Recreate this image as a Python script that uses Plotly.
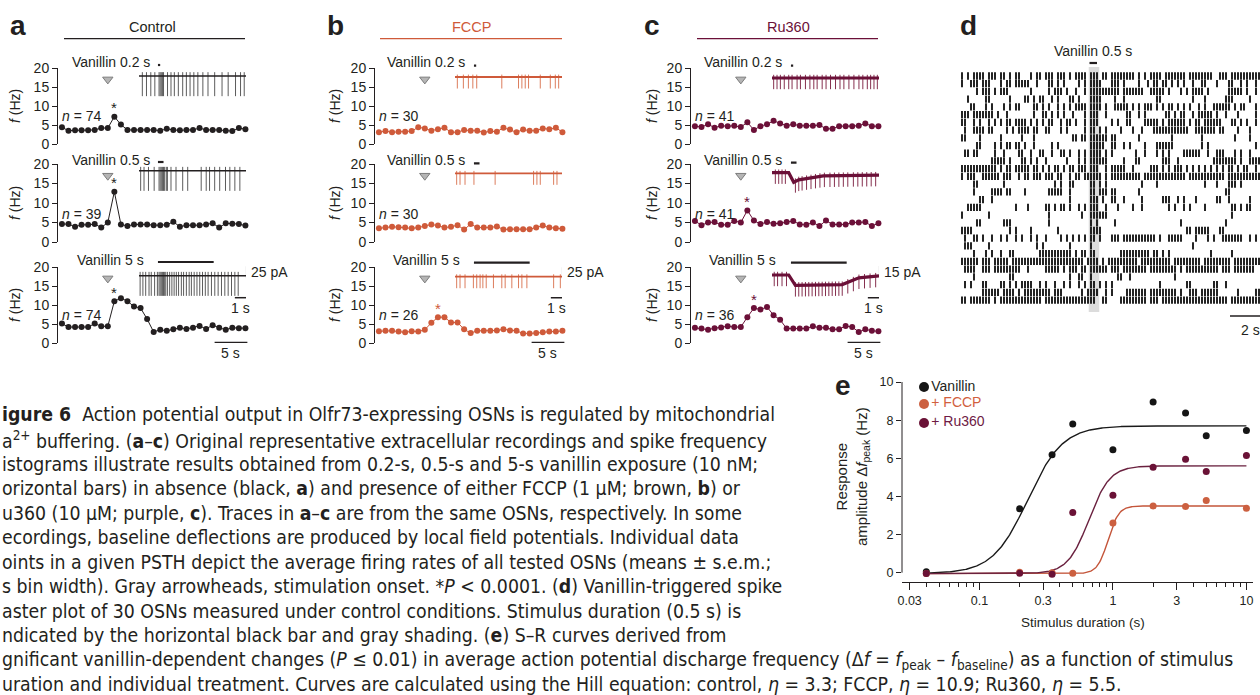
import numpy as np
import plotly.graph_objects as go

# ------------------------------------------------------------------ data
CONDITIONS = ["Control", "FCCP", "Ru360"]
STIM_LABELS = ["Vanillin 0.2 s", "Vanillin 0.5 s", "Vanillin 5 s"]
STIM_DUR_S = [0.2, 0.5, 5.0]
BIN_S = 1.0
STIM_ONSET_BIN = 7

CTRL_02 = [4.4, 3.5, 3.6, 3.6, 3.6, 3.7, 4.2, 4.2, 7.2, 5.1, 3.7, 3.7, 3.7, 3.7, 3.7, 3.5, 4.0, 3.7, 3.6, 3.7,
           3.7, 4.2, 3.7, 3.7, 3.7, 3.5, 3.4, 4.2, 3.9]
CTRL_05 = [4.6, 4.6, 3.9, 4.4, 4.4, 4.6, 3.7, 5.0, 12.9, 4.5, 4.1, 4.5, 4.5, 4.5, 4.3, 4.3, 4.4, 5.2, 3.9, 4.3,
           4.3, 4.3, 4.5, 4.8, 3.7, 4.8, 4.7, 4.6, 4.2]
CTRL_5 = [5.1, 4.2, 4.2, 4.2, 4.2, 5.1, 4.4, 4.4, 11.0, 11.8, 11.0, 9.6, 9.2, 6.3, 2.9, 3.5, 3.2, 3.6, 4.0, 3.7,
          4.0, 4.5, 3.7, 4.7, 4.0, 3.5, 4.0, 3.9, 3.9]
FCCP_02 = [3.1, 3.4, 3.1, 3.2, 3.2, 3.4, 4.4, 4.1, 3.5, 3.9, 4.3, 3.1, 3.1, 3.7, 3.5, 3.5, 3.0, 3.4, 3.2, 4.3,
           3.8, 3.1, 3.8, 3.5, 3.5, 4.1, 3.9, 4.3, 3.1]
FCCP_05 = [3.5, 3.7, 3.9, 3.8, 3.7, 3.5, 3.7, 4.1, 4.5, 4.2, 3.7, 3.9, 4.3, 3.2, 4.6, 3.7, 3.7, 3.7, 4.0, 3.2,
           3.3, 3.3, 3.3, 3.3, 3.7, 4.2, 3.7, 3.5, 3.4]
FCCP_5 = [3.1, 3.2, 3.2, 3.0, 2.8, 3.1, 3.0, 3.5, 5.3, 6.8, 6.8, 5.4, 5.4, 3.6, 2.6, 3.2, 3.2, 3.2, 3.3, 3.6,
          3.3, 3.2, 2.5, 2.5, 2.6, 2.8, 3.0, 3.0, 3.2]
RU_02 = [4.7, 4.45, 5.2, 4.3, 4.8, 4.7, 4.8, 4.45, 5.7, 3.7, 4.7, 5.2, 6.1, 5.4, 4.8, 5.2, 4.8, 4.8, 4.8, 5.0,
         4.0, 4.0, 4.7, 4.7, 4.7, 4.8, 5.4, 4.7, 4.7]
RU_05 = [5.4, 4.3, 5.0, 5.1, 4.4, 4.4, 5.4, 5.0, 8.1, 5.5, 4.6, 5.1, 4.7, 4.8, 5.1, 5.4, 4.5, 4.4, 5.0, 4.1,
         5.5, 4.5, 4.5, 4.5, 5.0, 5.0, 5.1, 4.1, 4.8]
RU_5 = [4.0, 3.8, 3.5, 3.9, 4.1, 4.4, 4.2, 4.2, 6.8, 9.2, 8.8, 9.5, 7.3, 6.1, 3.8, 3.8, 3.8, 3.8, 4.4, 4.0,
        4.0, 3.6, 3.6, 4.5, 4.2, 2.9, 3.6, 3.2, 3.1]
PSTH_VALUES = [[CTRL_02, CTRL_05, CTRL_5], [FCCP_02, FCCP_05, FCCP_5], [RU_02, RU_05, RU_5]]
PSTH_SEM = 0.35
N_CELLS = [[74, 39, 74], [30, 30, 26], [41, 41, 36]]
STAR_BIN = [[8, 8, 8], [None, None, 9], [None, 8, 9]]
Y_TICKS = [0, 5, 10, 15, 20]

# example recordings (spike times in s within the 9.6-s trace)
INSET_SPAN_S = 9.6
TRACE_STIM_T0 = 1.7
A_SPK_02 = [0.3, 0.67, 1.06, 1.42, 1.8, 1.9, 2.0, 2.1, 2.2, 2.56, 2.87, 3.17, 3.53, 3.92, 4.25, 4.58, 4.92,
            5.28, 5.73, 6.19, 6.79, 7.45, 8.0, 8.66, 9.11, 9.44]
A_SPK_05 = [0.15, 0.45, 0.85, 1.36, 1.8, 1.9, 2.0, 2.1, 2.2, 2.3, 2.45, 2.55, 2.87, 3.32, 3.92, 4.37, 5.58,
            6.03, 6.33, 6.79, 7.24, 7.76, 8.15, 8.6, 9.05]
A_SPK_5 = [0.1, 0.35, 0.6, 0.9, 1.1, 1.4, 1.65, 1.8, 1.9, 2.0, 2.1, 2.2, 2.3, 2.4, 2.55, 2.75, 2.95, 3.15,
           3.35, 3.55, 3.8, 4.0, 4.25, 4.5, 4.7, 4.95, 5.2, 5.45, 5.7, 5.95, 6.2, 6.5, 6.8, 7.1, 7.4, 7.7,
           8.0, 8.3, 8.6, 8.9]
B_SPK_02 = [0.21, 0.75, 1.2, 1.6, 1.95, 4.2, 5.7, 6.0, 6.3, 6.6, 7.65, 8.55, 9.0, 9.3]
B_SPK_05 = [0.15, 0.45, 0.9, 1.7, 3.6, 7.05, 7.35, 7.65, 8.85, 9.15]
B_SPK_5 = [0.15, 0.45, 0.9, 1.65, 1.95, 2.25, 2.5, 2.8, 3.45, 4.2, 4.5, 5.1, 5.7, 6.0, 6.45, 8.85, 9.45]
C_SPK_02 = [0.15, 0.45, 0.75, 1.1, 1.5, 1.8, 2.25, 2.55, 3.0, 3.4, 3.75, 4.05, 4.5, 4.85, 5.25, 5.7, 6.1,
            6.45, 6.9, 7.35, 7.8, 8.15, 8.55, 8.85, 9.15, 9.45]
C_SPK_05 = [0.3, 0.6, 0.9, 1.2, 2.1, 2.4, 2.7, 3.1, 3.5, 3.9, 4.3, 4.7, 5.2, 5.6, 6.0, 6.4, 6.8, 7.3, 7.7,
            8.1, 8.5, 8.9, 9.3]
C_SPK_5 = [0.2, 0.5, 0.9, 1.3, 2.1, 2.4, 2.7, 3.0, 3.3, 3.6, 3.9, 4.2, 4.5, 4.8, 5.1, 5.4, 5.7, 6.0, 6.3,
           6.8, 7.3, 7.8, 8.3, 8.8, 9.3]
SPIKES = [[A_SPK_02, A_SPK_05, A_SPK_5], [B_SPK_02, B_SPK_05, B_SPK_5], [C_SPK_02, C_SPK_05, C_SPK_5]]
FLAT_T, FLAT_PA = [0.0, 9.6], [0.0, 0.0]
C_BASE_05_T, C_BASE_05_PA = [0.0, 1.5, 1.95, 2.4, 4.6, 9.6], [0.0, 0.0, -12.0, -9.0, -4.0, -3.0]
C_BASE_5_T, C_BASE_5_PA = [0.0, 1.5, 2.1, 6.3, 7.8, 9.6], [0.0, 0.0, -13.0, -12.0, -3.5, -1.0]
BASELINES = [[(FLAT_T, FLAT_PA)] * 3, [(FLAT_T, FLAT_PA)] * 3,
             [(FLAT_T, FLAT_PA), (C_BASE_05_T, C_BASE_05_PA), (C_BASE_5_T, C_BASE_5_PA)]]
SPIKE_UP_PA = [8, 5, 4]
SPIKE_DOWN_PA = [-42, -24, -14]
PA_SCALE = [25, 25, 15]

# raster (d): spike bins of 0.2 s, first and second 10-s halves, 30 OSNs
RASTER_BIN_S = 0.2
RASTER_STIM_ONSET = 8.5
RASTER_STIM_DUR = 0.5
RASTER_BINS_0_10S = [
    [0, 2, 4, 5, 6, 7, 9, 10, 11, 13, 14, 16, 18, 19, 23, 25, 26, 28, 29, 30, 32, 33, 34, 36, 38, 39, 40, 41, 43, 44, 45, 47, 48],
    [0, 3, 4, 5, 7, 8, 9, 13, 15, 16, 18, 19, 20, 21, 22, 25, 29, 30, 32, 34, 39, 41, 43, 44, 45, 46],
    [5, 7, 8, 9, 11, 13, 14, 15, 23, 29, 31, 32, 33, 35, 38, 41, 43, 44, 45, 46, 47, 48, 49],
    [2, 8, 9, 16, 21, 22, 24, 26, 27, 30, 32, 36, 37, 39, 43, 44, 45, 46],
    [3, 4, 8, 10, 14, 16, 18, 19, 24, 25, 27, 29, 32, 34, 36, 38, 39, 40, 41, 43, 44, 45, 46, 48],
    [0, 1, 2, 4, 5, 6, 7, 8, 9, 10, 12, 15, 24, 27, 28, 30, 32, 34, 37, 41, 43, 44, 45, 48],
    [0, 1, 4, 6, 9, 11, 13, 15, 16, 18, 19, 20, 21, 23, 25, 27, 29, 30, 33, 35, 36, 38, 41, 43, 44, 45],
    [1, 4, 5, 6, 7, 9, 10, 15, 17, 19, 20, 21, 22, 24, 25, 28, 29, 33, 35, 41, 43, 44, 46, 48],
    [0, 1, 6, 13, 20, 24, 37, 38, 40, 41, 43, 44, 45, 46, 47, 48],
    [5, 6, 11, 13, 15, 16, 18, 19, 21, 24, 30, 32, 43, 44, 45, 46, 47],
    [1, 2, 4, 5, 11, 14, 19, 20, 23, 26, 27, 30, 33, 34, 36, 39, 41, 43, 44, 45, 46, 48],
    [10, 11, 12, 13, 14, 16, 20, 21, 23, 25, 28, 35, 39, 41, 43, 44, 45, 46, 47, 48],
    [0, 1, 2, 3, 4, 5, 6, 7, 8, 9, 10, 11, 13, 15, 16, 18, 19, 20, 21, 22, 24, 25, 27, 29, 31, 32, 34, 36, 37, 39, 40, 41, 43, 44, 45, 48],
    [0, 2, 3, 4, 7, 8, 9, 10, 11, 12, 14, 15, 16, 19, 21, 22, 24, 25, 26, 28, 29, 30, 32, 33, 36, 38, 39, 41, 42, 43, 44, 45, 46, 48],
    [4, 5, 14, 31, 33, 36, 37, 43, 44, 46, 48],
    [4, 10, 11, 12, 13, 15, 16, 21, 29, 30, 31, 32, 33, 36, 43, 44, 46, 47, 48],
    [6, 7, 10, 36, 43, 44, 45, 47],
    [2, 3, 4, 5, 6, 18, 22, 28, 29, 31, 33, 34, 36, 39, 41, 43, 44, 45, 48],
    [0, 9, 29, 40, 43, 44, 45, 46, 47, 48],
    [5, 6, 14, 15, 16, 29, 43, 45],
    [0, 1, 2, 3, 16, 18, 23, 32, 43, 44, 45, 46],
    [1, 4, 5, 7, 10, 13, 15, 18, 20, 23, 25, 28, 33, 35, 37, 39, 41, 43, 44, 46],
    [1, 2, 3, 9, 25, 27, 36, 43],
    [4, 8, 10, 13, 16, 17, 26, 27, 28, 29, 30, 31, 32, 33, 34, 35, 36, 38, 40, 41, 43, 44],
    [0, 1, 2, 3, 4, 5, 7, 8, 9, 11, 12, 13, 14, 15, 17, 18, 19, 20, 21, 22, 23, 24, 25, 26, 27, 28, 29, 30, 31, 32, 33, 34, 35, 36, 37, 38, 39, 40, 42, 43, 44, 45, 47, 49],
    [1, 2, 3, 4, 7, 8, 9, 11, 12, 13, 14, 15, 16, 17, 18, 19, 22, 28, 29, 30, 31, 32, 34, 36, 37, 38, 40, 41, 43, 44, 45, 46, 47, 48],
    [4, 16, 17, 36, 39, 40, 43],
    [1, 3, 7, 8, 13, 14, 16, 18, 20, 21, 22, 23, 26, 28, 31, 34, 36, 39, 41, 43, 44, 46, 48],
    [7, 8, 9, 10, 11, 12, 14, 15, 16, 17, 19, 21, 22, 23, 24, 25, 26, 27, 28, 29, 31, 32, 33, 40, 42, 43, 44, 45, 48],
    [0, 1, 3, 4, 5, 6, 7, 8, 9, 11, 13, 14, 15, 16, 17, 18, 19, 20, 21, 22, 23, 24, 25, 26, 28, 29, 30, 31, 32, 33, 34, 35, 36, 37, 38, 39, 40, 41, 42, 43, 44, 47, 48],
]
RASTER_BINS_10_20S = [
    [0, 1, 2, 3, 4, 5, 6, 7, 9, 11, 13, 14, 15, 16, 18, 19, 20, 21, 22, 23, 24, 26, 27, 28, 29, 30, 31, 32, 33, 36, 37, 38, 40, 41, 42, 43, 44, 45, 46, 47, 48, 49],
    [0, 1, 2, 4, 9, 12, 14, 15, 17, 18, 20, 22, 24, 27, 30, 31, 35, 39, 40, 43, 45, 48],
    [0, 1, 2, 4, 5, 6, 7, 8, 9, 10, 13, 14, 15, 16, 17, 19, 23, 25, 27, 28, 29, 30, 32, 39, 40, 41, 42, 43, 45, 48],
    [1, 4, 15, 16, 27, 31, 38, 39, 40, 46],
    [1, 2, 3, 4, 5, 7, 9, 11, 12, 13, 15, 17, 19, 20, 22, 24, 26, 29, 31, 34, 35, 36, 37, 38, 39, 41, 43, 44, 48],
    [5, 6, 9, 11, 18, 19, 21, 23, 24, 27, 29, 30, 31, 32, 33, 35, 38, 42, 48],
    [0, 2, 5, 6, 11, 12, 13, 14, 15, 17, 19, 20, 21, 22, 23, 24, 26, 28, 29, 31, 32, 33, 34, 35, 36, 40, 41, 43, 45, 48],
    [3, 7, 10, 14, 15, 16, 17, 18, 19, 20, 21, 22, 23, 24, 25, 28, 29, 30, 31, 32, 33, 34, 36, 37, 42, 46],
    [0, 1, 9, 20, 30, 41, 46],
    [0, 1, 4, 6, 11, 15, 16, 17, 18, 19, 20, 30, 32, 48],
    [0, 8, 11, 15, 17, 19, 24, 25, 26, 27, 28, 29, 32, 35, 36, 37, 41, 43, 46],
    [4, 8, 9, 17, 18, 19, 22, 34, 35, 36, 37, 38, 39, 40, 41, 43, 46, 47, 48, 49],
    [0, 1, 2, 3, 4, 7, 13, 14, 15, 17, 19, 21, 22, 23, 25, 27, 29, 31, 33, 35, 37, 39, 40, 42, 44, 45, 48],
    [0, 1, 2, 3, 4, 5, 6, 7, 8, 9, 11, 12, 13, 14, 15, 16, 17, 18, 19, 20, 21, 22, 23, 24, 26, 27, 28, 29, 30, 31, 32, 33, 34, 35, 36, 37, 39, 40, 41, 42, 43, 44, 45, 46, 47, 48, 49],
    [10, 15, 31, 35, 39, 40, 41, 43],
    [0, 1, 9, 38, 39],
    [0, 1, 4, 10, 17, 18, 19, 22, 24, 28, 35, 36, 39, 46],
    [2, 7, 10, 19, 21, 24, 26, 31, 40, 41, 43, 45, 46],
    [40],
    [1, 23, 38],
    [25, 26, 28, 29, 30, 31, 32, 36, 37],
    [0, 1, 2, 4, 5, 6, 7, 8, 9, 10, 11, 12, 13, 14, 16, 19, 20, 21, 22, 23, 28, 32, 34, 37, 38, 39, 40, 41, 42, 43, 46, 48],
    [27],
    [3, 4, 5, 6, 7, 8, 9, 10, 11, 12, 14, 15, 17, 19, 33, 40],
    [0, 1, 2, 3, 4, 5, 6, 7, 8, 10, 11, 12, 13, 14, 15, 16, 17, 18, 19, 21, 22, 23, 24, 25, 26, 27, 28, 29, 31, 32, 33, 34, 35, 36, 37, 38, 39, 41, 42, 43, 44, 45, 46, 47, 48, 49],
    [0, 1, 2, 4, 5, 6, 7, 8, 9, 10, 11, 13, 14, 15, 16, 17, 18, 19, 20, 21, 23, 25, 26, 27, 28, 29, 30, 31, 32, 33, 34, 35, 37, 38, 39, 41, 42, 43, 44, 45, 46, 47],
    [2, 3, 6, 21],
    [0, 16, 25, 26, 34, 35, 38],
    [0, 5, 6, 7, 8, 9, 10, 11, 13, 14, 15, 16, 17, 18, 19, 20, 21, 23, 26, 27, 28, 30, 31, 32, 33, 34, 35, 42, 48, 49],
    [3, 4, 5, 6, 7, 8, 9, 10, 11, 13, 14, 15, 17, 18, 19, 20, 21, 22, 23, 24, 25, 26, 27, 28, 29, 30, 31, 32, 33, 34, 35, 36, 37, 38, 40, 41, 42, 43, 44, 45, 46, 47, 48, 49],
]

# S-R curves (e)
E_DUR = [0.04, 0.2, 0.35, 0.5, 1, 2, 3.5, 5, 10]
E_VANILLIN = [0.05, 3.35, 6.18, 7.8, 6.45, 8.95, 8.37, 7.18, 7.46]
E_FCCP = [-0.04, 0.02, 0.0, -0.03, 2.6, 3.5, 3.47, 3.78, 3.38]
E_RU360 = [-0.04, -0.03, -0.09, 3.15, 4.06, 5.53, 5.95, 5.3, 6.15]
HILL_N = [3.3, 10.9, 5.5]
HILL_EC50 = [0.23, 0.92, 0.66]
HILL_TOP = [7.7, 3.5, 5.6]
HILL_BOTTOM = -0.05
E_LEGEND = ["Vanillin", "+ FCCP", "+ Ru360"]
E_XTICKS = [0.03, 0.1, 0.3, 1, 3, 10]
E_XTICKTEXT = ["0.03", "0.1", "0.3", "1", "3", "10"]
E_YTICKS = [0, 2, 4, 6, 8, 10]

CAPTION_LINES = [
    "<b>igure 6</b>\u00a0 Action potential output in Olfr73-expressing OSNs is regulated by mitochondrial",
    "a<sup>2+</sup> buffering. (<b>a</b>–<b>c</b>) Original representative extracellular recordings and spike frequency",
    "istograms illustrate results obtained from 0.2-s, 0.5-s and 5-s vanillin exposure (10 nM;",
    "orizontal bars) in absence (black, <b>a</b>) and presence of either FCCP (1 µM; brown, <b>b</b>) or",
    "u360 (10 µM; purple, <b>c</b>). Traces in <b>a</b>–<b>c</b> are from the same OSNs, respectively. In some",
    "ecordings, baseline deflections are produced by local field potentials. Individual data",
    "oints in a given PSTH depict the average firing rates of all tested OSNs (means ± s.e.m.;",
    "s bin width). Gray arrowheads, stimulation onset. *<i>P</i> &lt; 0.0001. (<b>d</b>) Vanillin-triggered spike",
    "aster plot of 30 OSNs measured under control conditions. Stimulus duration (0.5 s) is",
    "ndicated by the horizontal black bar and gray shading. (<b>e</b>) S–R curves derived from",
    "gnificant vanillin-dependent changes (<i>P</i> ≤ 0.01) in average action potential discharge frequency "
    "(Δ<i>f</i> = <i>f</i><sub>peak</sub> – <i>f</i><sub>baseline</sub>) as a function of stimulus",
    "uration and individual treatment. Curves are calculated using the Hill equation: control, <i>η</i> = 3.3; "
    "FCCP, <i>η</i> = 10.9; Ru360, <i>η</i> = 5.5.",
]

# ------------------------------------------------------------------ style / layout helpers
W, H = 1260, 695
FONT = "Liberation Sans, Arial, Helvetica, sans-serif"
CAP_FONT = "DejaVu Sans Condensed, Liberation Sans Narrow, Liberation Sans, sans-serif"
INK = "#231f20"
COL = ["#231f20", "#cf5a3a", "#6b1038"]
SPIKE_COL = ["#5c5c5c", "#dc7d5d", "#86304f"]
BASE_W = [1.4, 1.8, 3.2]
PX_PER_PA = [0.48, 0.48, 0.8]

PSTH_X0 = [58, 375, 691]
PSTH_ROW_PX = [(68, 144), (164, 242), (267, 343)]
YLAB_X = [15, 335, 652]
STIMTXT_X = [[70, 70, 75], [385, 385, 391], [702, 702, 707]]
STIMTXT_Y = [62, 160.5, 260]
INSET_X0 = [139, 455, 772]
INSET_BAR_PX = [[65, 162, 262], [65.7, 163.3, 262.7], [65.7, 162.7, 262.7]]
INSET_BASE_PX = [[76, 170.7, 275.7], [77, 173.3, 276.7], [78, 172.7, 275]]

fig = go.Figure()
L = dict(template="none", width=W, height=H, margin=dict(l=0, r=0, t=0, b=0, pad=0), autosize=False,
         paper_bgcolor="white", plot_bgcolor="rgba(0,0,0,0)", showlegend=False,
         font=dict(family=FONT, color=INK, size=14))
ann, shp = [], []


def fx(px):
    return px / W


def fy(py):
    return 1 - py / H


def xa(i):
    return "xaxis" if i == 1 else f"xaxis{i}"


def ya(i):
    return "yaxis" if i == 1 else f"yaxis{i}"


def xr(i):
    return "x" if i == 1 else f"x{i}"


def yr(i):
    return "y" if i == 1 else f"y{i}"


def axes(i, px0, px1, py0, py1, xrange, yrange, xkw=None, ykw=None):
    a = dict(domain=[fx(px0), fx(px1)], range=xrange, anchor=yr(i), visible=False, showgrid=False,
             zeroline=False, fixedrange=True, automargin=False)
    b = dict(domain=[fy(py1), fy(py0)], range=yrange, anchor=xr(i), visible=False, showgrid=False,
             zeroline=False, fixedrange=True, automargin=False)
    if xkw:
        a.update(xkw)
    if ykw:
        b.update(ykw)
    L[xa(i)] = a
    L[ya(i)] = b


def label(px, py, s, size=14, color=INK, xanchor="center", yanchor="middle", angle=0, family=FONT):
    ann.append(dict(x=fx(px), y=fy(py), xref="paper", yref="paper", text=s, showarrow=False,
                    xanchor=xanchor, yanchor=yanchor, textangle=angle,
                    font=dict(size=size, color=color, family=family)))


def hline_px(x0, x1, y, color=INK, width=1.3):
    shp.append(dict(type="line", xref="paper", yref="paper", x0=fx(x0), x1=fx(x1), y0=fy(y), y1=fy(y),
                    line=dict(color=color, width=width)))


def add(i, **kw):
    kw.setdefault("showlegend", False)
    kw.setdefault("hoverinfo", "skip")
    kw.setdefault("cliponaxis", False)
    fig.add_trace(go.Scatter(xaxis=xr(i), yaxis=yr(i), **kw))


# ------------------------------------------------------------------ panels a-c headers
PANEL_LETTER_X = [18, 335, 652]
HEADER_CX = [152, 471, 788]
HEADER_LINE = [(64, 245), (380, 562), (697, 878)]
for p in range(3):
    label(PANEL_LETTER_X[p], 25, "<b>" + "abc"[p] + "</b>", size=28)
    label(HEADER_CX[p], 27, CONDITIONS[p], size=14.5, color=COL[p])
    hline_px(HEADER_LINE[p][0], HEADER_LINE[p][1], 38.6, color=COL[p], width=1.4)

# ------------------------------------------------------------------ PSTHs
t_bins = np.arange(len(CTRL_02)) * BIN_S
for p in range(3):
    for r in range(3):
        i = 1 + 3 * p + r
        px0 = PSTH_X0[p]
        axes(i, px0, px0 + 192, PSTH_ROW_PX[r][0], PSTH_ROW_PX[r][1], [-0.6, 28.7], [0, 20],
             ykw=dict(visible=True, showline=True, linecolor=INK, linewidth=1, ticks="outside", ticklen=5,
                      tickwidth=1, tickcolor=INK, tickvals=Y_TICKS, tickfont=dict(size=14, color=INK),
                      showticklabels=True))
        vals = PSTH_VALUES[p][r]
        add(i, x=t_bins, y=vals, mode="lines+markers", line=dict(color=COL[p], width=1),
            marker=dict(size=6, color=COL[p]),
            error_y=dict(type="constant", value=PSTH_SEM, thickness=1, width=0, color=COL[p]))
        add(i, x=[STIM_ONSET_BIN * BIN_S], y=[17], mode="markers",
            marker=dict(symbol="triangle-down", size=9, color="#b5b5b5", line=dict(color="#7d7d7d", width=1)))
        sb = STAR_BIN[p][r]
        if sb is not None:
            ann.append(dict(x=sb * BIN_S, y=vals[sb] + 2.3, xref=xr(i), yref=yr(i), text="*", showarrow=False,
                            font=dict(size=15, color=COL[p], family=FONT)))
        ann.append(dict(x=-0.3, y=7.3, xref=xr(i), yref=yr(i), text=f"<i>n</i> = {N_CELLS[p][r]}",
                        showarrow=False, xanchor="left", font=dict(size=14, color=INK, family=FONT)))
        label(YLAB_X[p], (PSTH_ROW_PX[r][0] + PSTH_ROW_PX[r][1]) / 2, "<i>f</i> (Hz)", angle=-90)
        label(STIMTXT_X[p][r], STIMTXT_Y[r], STIM_LABELS[r], xanchor="left")
        if r == 2:
            add(i, x=[23.3, 28.3], y=[0.15, 0.15], mode="lines", line=dict(color=INK, width=1.5))
            label(px0 + 192 * (25.8 + 0.6) / 29.3, 353, "5 s")

# ------------------------------------------------------------------ recordings (insets)
for p in range(3):
    ppa = PX_PER_PA[p]
    for r in range(3):
        i = 10 + 3 * p + r
        base = INSET_BASE_PX[p][r]
        bar = INSET_BAR_PX[p][r]
        top_px, bot_px = bar - 3, bar + 45
        x0 = INSET_X0[p]
        axes(i, x0, x0 + 107, top_px, bot_px, [0, INSET_SPAN_S],
             [(base - bot_px) / ppa, (base - top_px) / ppa])
        bt, bv = BASELINES[p][r]
        xs, ys = [], []
        for s in SPIKES[p][r]:
            b0 = float(np.interp(s, bt, bv))
            xs += [s, s, None]
            ys += [b0 + SPIKE_UP_PA[p], b0 + SPIKE_DOWN_PA[p], None]
        add(i, x=xs, y=ys, mode="lines", line=dict(color=SPIKE_COL[p], width=1))
        add(i, x=bt, y=bv, mode="lines", line=dict(color=COL[p], width=BASE_W[p]))
        sy = (base - bar) / ppa
        add(i, x=[TRACE_STIM_T0, TRACE_STIM_T0 + STIM_DUR_S[r]], y=[sy, sy], mode="lines",
            line=dict(color=INK, width=2.2))
        if r == 2:
            top = 9.5 / ppa
            add(i, x=[INSET_SPAN_S + 0.05] * 2, y=[top, top - PA_SCALE[p]], mode="lines",
                line=dict(color=INK, width=1.2))
            y1s = (base - 297.7) / ppa
            add(i, x=[INSET_SPAN_S - 1.0, INSET_SPAN_S], y=[y1s, y1s], mode="lines",
                line=dict(color=INK, width=1.5))
            label(x0 + 110, 272, f"{PA_SCALE[p]} pA", xanchor="left")
            label(x0 + 107 * (INSET_SPAN_S - 0.5) / INSET_SPAN_S, 307.5, "1 s")

# ------------------------------------------------------------------ raster (d)
RI = 19
axes(RI, 962, 1260, 67, 312, [0, 298 / 15], [31.55, -0.166])
rx, ry = [], []
for row, (h1, h2) in enumerate(zip(RASTER_BINS_0_10S, RASTER_BINS_10_20S), start=1):
    for j in h1:
        rx.append(j * RASTER_BIN_S)
        ry.append(row)
    for j in h2:
        rx.append(10 + j * RASTER_BIN_S)
        ry.append(row)
shp.append(dict(type="rect", xref=xr(RI), yref=yr(RI) + " domain", x0=RASTER_STIM_ONSET - 0.05,
                x1=RASTER_STIM_ONSET + RASTER_STIM_DUR + 0.15, y0=0, y1=1, fillcolor="#dcdcdc",
                line=dict(width=0), layer="below"))
add(RI, x=rx, y=ry, mode="markers",
    marker=dict(symbol="line-ns-open", size=5.2, color="#050505", line=dict(color="#050505", width=1.75)))
shp.append(dict(type="line", xref=xr(RI), yref="paper", x0=RASTER_STIM_ONSET,
                x1=RASTER_STIM_ONSET + RASTER_STIM_DUR, y0=fy(63), y1=fy(63), line=dict(color=INK, width=2.2)))
shp.append(dict(type="line", xref=xr(RI), yref="paper", x0=298 / 15 - 2.0, x1=298 / 15,
                y0=fy(316), y1=fy(316), line=dict(color=INK, width=1.5)))
label(968, 25, "<b>d</b>", size=28)
label(1093, 51, "Vanillin 0.5 s")
label(1250, 330, "2 s")

# ------------------------------------------------------------------ S-R curves (e)
EI = 20
minor_vals = [m * d for d in (0.01, 0.1, 1) for m in range(2, 10) if m != 3]
minor_vals = [v for v in minor_vals if 0.03 < v < 10]
axes(EI, 902, 1253, 382, 582, [np.log10(0.0263), np.log10(11.2)], [-0.49, 10],
     xkw=dict(visible=True, type="log", showline=True, linecolor=INK, linewidth=1, ticks="outside",
              ticklen=7, tickwidth=1, tickcolor=INK, tickvals=E_XTICKS, ticktext=E_XTICKTEXT,
              tickfont=dict(size=12.5, color=INK),
              minor=dict(ticks="outside", ticklen=4, tickwidth=1, tickcolor=INK, tickvals=minor_vals)),
     ykw=dict(visible=True, showline=False, ticks="outside", ticklen=5, tickwidth=1, tickcolor=INK,
              tickvals=E_YTICKS, tickfont=dict(size=12.5, color=INK)))
shp.append(dict(type="line", xref=xr(EI) + " domain", yref=yr(EI), x0=0, x1=0, y0=0, y1=10,
                line=dict(color=INK, width=1)))
xx = np.logspace(np.log10(E_DUR[0]), np.log10(E_DUR[-1]), 400)
E_SERIES = [E_VANILLIN, E_FCCP, E_RU360]
E_MARK = ["#151515", "#cc6040", "#6a1236"]
E_LINE = ["#1a1a1a", "#c4553a", "#6a213f"]
for k in range(3):
    yy = HILL_BOTTOM + (HILL_TOP[k] - HILL_BOTTOM) * xx ** HILL_N[k] / (HILL_EC50[k] ** HILL_N[k] + xx ** HILL_N[k])
    add(EI, x=xx, y=yy, mode="lines", line=dict(color=E_LINE[k], width=1.4))
for k in range(3):
    add(EI, x=E_DUR, y=E_SERIES[k], mode="markers", marker=dict(size=7, color=E_MARK[k]))
label(843, 385, "<b>e</b>", size=28)
label(1083, 622, "Stimulus duration (s)", size=13.5)
label(852, 477, "Response<br>amplitude Δ<i>f</i><sub>peak</sub> (Hz)", size=15, angle=-90)

LI = 21
axes(LI, 915, 1010, 378, 432, [0, 1], [0, 1])
add(LI, x=[0.095] * 3, y=[0.833, 0.519, 0.167], mode="markers+text", text=E_LEGEND,
    textposition="middle right", textfont=dict(size=14, color=["#231f20", "#d2603e", "#6e1a44"]),
    marker=dict(size=10, color=E_MARK))

# ------------------------------------------------------------------ caption
for k, line in enumerate(CAPTION_LINES):
    label(0, 415 + 24.5 * k, line, size=19.3, xanchor="left", family=CAP_FONT)

L["annotations"] = ann
L["shapes"] = shp
fig.update_layout(**L)
fig.write_html("out.html", config={"displayModeBar": False},
               post_script="document.body.style.margin='0';document.body.style.overflow='hidden';")
